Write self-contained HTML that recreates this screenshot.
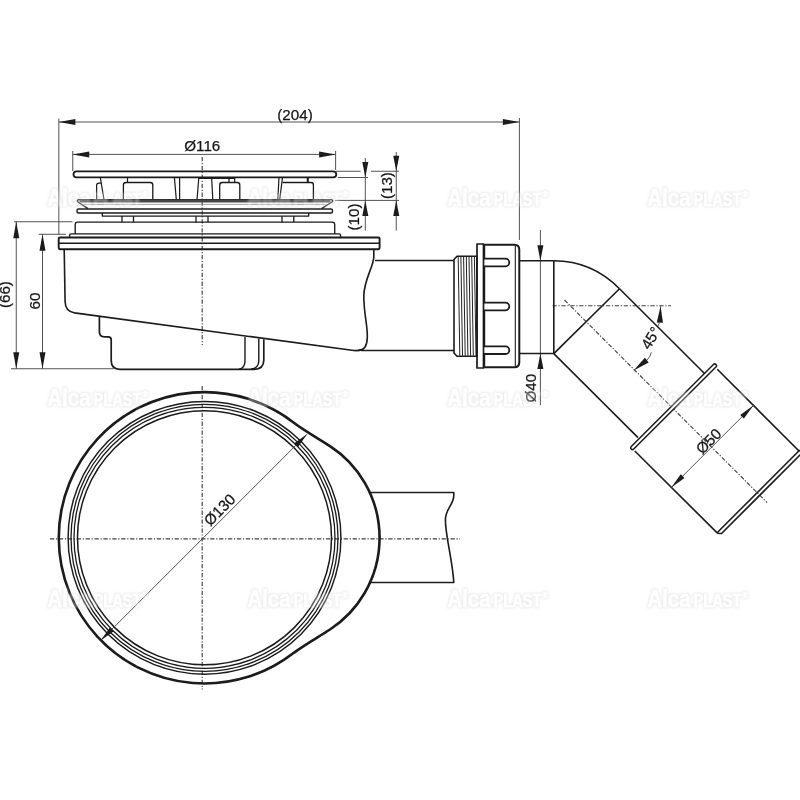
<!DOCTYPE html>
<html lang="cs">
<head>
<meta charset="utf-8">
<title>Alcaplast – sifon vaničkový</title>
<style>
html,body{margin:0;padding:0;background:#fff;}
body{width:800px;height:800px;overflow:hidden;}
svg{display:block;}
text{font-family:"Liberation Sans",sans-serif;fill:#161616;stroke:#161616;stroke-width:.25;}
.wm text{fill:#fff;stroke:#fff;stroke-width:.5;}
</style>
</head>
<body>
<svg width="800" height="800" viewBox="0 0 800 800">
<defs>
<filter id="soft" x="0" y="0" width="800" height="800" filterUnits="userSpaceOnUse"><feGaussianBlur stdDeviation="0.4"/></filter>
<filter id="wm" x="0" y="0" width="800" height="800" filterUnits="userSpaceOnUse" color-interpolation-filters="sRGB">
<feMorphology in="SourceAlpha" operator="dilate" radius="1.3" result="d"/>
<feGaussianBlur in="d" stdDeviation="1.1" result="b"/>
<feGaussianBlur in="SourceAlpha" stdDeviation="0.4" result="s"/>
<feComposite in="b" in2="s" operator="out" result="ring"/>
<feFlood flood-color="#cfcfcf" flood-opacity="0.4" result="g"/>
<feComposite in="g" in2="ring" operator="in" result="halo"/>
<feFlood flood-color="#ffffff" flood-opacity="0.3" result="w"/>
<feComposite in="w" in2="s" operator="in" result="fill"/>
<feMerge><feMergeNode in="halo"/><feMergeNode in="fill"/></feMerge>
</filter>
</defs>
<rect width="800" height="800" fill="#fff"/>
<g stroke-linecap="butt" stroke-linejoin="round" filter="url(#soft)">
<line x1="58.85" y1="118.5" x2="58.85" y2="234.5" stroke="#4a4a4a" stroke-width="0.95" />
<line x1="519.4" y1="118" x2="519.4" y2="240" stroke="#4a4a4a" stroke-width="0.95" />
<line x1="58.85" y1="122" x2="519.4" y2="122" stroke="#4a4a4a" stroke-width="0.95" />
<polygon points="58.85,122.00 75.35,125.00 75.35,119.00" fill="#1a1a1a"/>
<polygon points="519.40,122.00 502.90,119.00 502.90,125.00" fill="#1a1a1a"/>
<text x="295" y="120" font-size="15.2" text-anchor="middle">(204)</text>
<line x1="72.75" y1="151" x2="72.75" y2="171" stroke="#4a4a4a" stroke-width="0.95" />
<line x1="335.6" y1="151" x2="335.6" y2="170" stroke="#4a4a4a" stroke-width="0.95" />
<line x1="72.75" y1="154.4" x2="335.6" y2="154.4" stroke="#4a4a4a" stroke-width="0.95" />
<polygon points="72.75,154.40 89.25,157.40 89.25,151.40" fill="#1a1a1a"/>
<polygon points="335.60,154.40 319.10,151.40 319.10,157.40" fill="#1a1a1a"/>
<text x="202.3" y="151.3" font-size="15.2" text-anchor="middle">Ø116</text>
<line x1="365.3" y1="158" x2="365.3" y2="230.6" stroke="#4a4a4a" stroke-width="0.95" />
<line x1="338" y1="177.5" x2="368" y2="177.5" stroke="#4a4a4a" stroke-width="0.95" />
<line x1="335" y1="200.4" x2="399" y2="200.4" stroke="#4a4a4a" stroke-width="0.95" />
<polygon points="365.30,177.50 368.30,162.00 362.30,162.00" fill="#1a1a1a"/>
<polygon points="365.30,200.40 362.30,215.90 368.30,215.90" fill="#1a1a1a"/>
<text x="359" y="217" font-size="15.2" text-anchor="middle" transform="rotate(-90 359 217)">(10)</text>
<line x1="396.25" y1="152" x2="396.25" y2="230.6" stroke="#4a4a4a" stroke-width="0.95" />
<line x1="336" y1="171.25" x2="360.6" y2="171.25" stroke="#4a4a4a" stroke-width="0.95" />
<line x1="371" y1="171.25" x2="399" y2="171.25" stroke="#4a4a4a" stroke-width="0.95" />
<polygon points="396.25,171.25 399.25,155.75 393.25,155.75" fill="#1a1a1a"/>
<polygon points="396.25,200.40 393.25,215.90 399.25,215.90" fill="#1a1a1a"/>
<text x="392" y="185.6" font-size="15.2" text-anchor="middle" transform="rotate(-90 392 185.6)">(13)</text>
<line x1="14" y1="221.75" x2="72.5" y2="221.75" stroke="#4a4a4a" stroke-width="0.95" />
<line x1="16.25" y1="221.75" x2="16.25" y2="368.75" stroke="#4a4a4a" stroke-width="0.95" />
<polygon points="16.25,221.75 13.25,238.25 19.25,238.25" fill="#1a1a1a"/>
<polygon points="16.25,368.75 19.25,352.25 13.25,352.25" fill="#1a1a1a"/>
<text x="9.6" y="294.6" font-size="15.2" text-anchor="middle" transform="rotate(-90 9.6 294.6)">(66)</text>
<line x1="38.75" y1="234.25" x2="66" y2="234.25" stroke="#4a4a4a" stroke-width="0.95" />
<line x1="42.5" y1="234.25" x2="42.5" y2="368.75" stroke="#4a4a4a" stroke-width="0.95" />
<polygon points="42.50,234.25 39.50,250.75 45.50,250.75" fill="#1a1a1a"/>
<polygon points="42.50,368.75 45.50,352.25 39.50,352.25" fill="#1a1a1a"/>
<text x="40" y="301" font-size="15.2" text-anchor="middle" transform="rotate(-90 40 301)">60</text>
<line x1="11" y1="368.75" x2="113.75" y2="368.75" stroke="#4a4a4a" stroke-width="0.95" />
<line x1="540.4" y1="230" x2="540.4" y2="405" stroke="#4a4a4a" stroke-width="0.95" />
<polygon points="540.40,260.80 543.40,245.30 537.40,245.30" fill="#1a1a1a"/>
<polygon points="540.40,353.50 537.40,369.00 543.40,369.00" fill="#1a1a1a"/>
<text x="536" y="388.2" font-size="15.2" text-anchor="middle" transform="rotate(-90 536 388.2)">Ø40</text>
<line x1="202.2" y1="157" x2="202.2" y2="345" stroke="#404040" stroke-width="1.15" stroke-dasharray="4.3 1.7 1.2 1.7"/>
<line x1="202.2" y1="386" x2="202.2" y2="689.5" stroke="#404040" stroke-width="1.15" stroke-dasharray="4.3 1.7 1.2 1.7"/>
<line x1="50" y1="538.8" x2="460" y2="538.8" stroke="#404040" stroke-width="1.15" stroke-dasharray="4.3 1.7 1.2 1.7"/>
<line x1="552.5" y1="305.75" x2="671" y2="305.75" stroke="#404040" stroke-width="1.15" stroke-dasharray="4.3 1.7 1.2 1.7"/>
<line x1="564.5" y1="300" x2="767" y2="502.5" stroke="#404040" stroke-width="1.15" stroke-dasharray="4.3 1.7 1.2 1.7"/>
<path d="M76.5,171.3 H333 Q336.3,171.3 336.3,174.3 Q336.3,177.4 333,177.4 H76.5 Q73.5,177.4 73.5,174.3 Q73.5,171.3 76.5,171.3 Z" stroke="#1a1a1a" stroke-width="1.8" fill="none" />
<path d="M100.3,177.4 L104,199.6" stroke="#1a1a1a" stroke-width="1.2" fill="none" />
<path d="M96.6,199.6 V185.5 Q96.6,183.2 99,183.2 H101.3" stroke="#1a1a1a" stroke-width="1.2" fill="none" />
<path d="M127.5,177.4 V182.5" stroke="#1a1a1a" stroke-width="1.2" fill="none" />
<path d="M123.4,199.6 V185 Q123.4,182.5 126,182.5 H150.3 Q152.8,182.5 152.8,185 V199.6" stroke="#1a1a1a" stroke-width="1.3" fill="none" />
<path d="M174.4,177.4 L176.3,199.6" stroke="#1a1a1a" stroke-width="1.2" fill="none" />
<path d="M179.6,177.4 V199.6" stroke="#1a1a1a" stroke-width="1.2" fill="none" />
<path d="M198.8,177.8 L197,199.6" stroke="#1a1a1a" stroke-width="1.2" fill="none" />
<path d="M198.8,178 H234.7" stroke="#1a1a1a" stroke-width="2.0" fill="none" />
<path d="M211.6,177.4 L212.8,199.6" stroke="#1a1a1a" stroke-width="1.2" fill="none" />
<path d="M229,177.4 V182.5 M234.7,177.4 V182.5" stroke="#1a1a1a" stroke-width="1.2" fill="none" />
<path d="M219.7,199.6 V185 Q219.7,182.5 222.2,182.5 H237.2 Q239.8,182.5 239.8,185 V199.6" stroke="#1a1a1a" stroke-width="1.3" fill="none" />
<path d="M279,177.4 L277.8,199.6 M282.5,177.4 L279.7,199.6" stroke="#1a1a1a" stroke-width="1.2" fill="none" />
<path d="M282.5,182.5 H311 Q313.4,182.5 313.4,185 V199.6" stroke="#1a1a1a" stroke-width="1.3" fill="none" />
<path d="M307.8,177.4 V182.5" stroke="#1a1a1a" stroke-width="2.0" fill="none" />
<path d="M78.5,199.6 H331.5 Q333.5,200.6 332,202 L321.5,208.6 M78.5,199.6 Q76.5,200.6 78,202 L88,208.6" stroke="#1a1a1a" stroke-width="1.4" fill="none" />
<line x1="79.5" y1="200.9" x2="330.5" y2="200.9" stroke="#444" stroke-width="3.0" />
<line x1="83" y1="204.4" x2="327" y2="204.4" stroke="#888" stroke-width="0.8" />
<path d="M78.5,209 H331 Q332.5,209 332.5,211 Q332.5,213 331,213 H78.5 Q77,213 77,211 Q77,209 78.5,209 Z" stroke="#1a1a1a" stroke-width="1.4" fill="none" />
<path d="M102.3,213 V216.1 H308.7 V213" stroke="#1a1a1a" stroke-width="1.3" fill="none" />
<path d="M122,216.1 V222.2 M133.5,216.3 V222.2 M196,216.3 V222.2 M208,216.3 V222.2 M282,216.3 V222.2 M293.8,216.3 V222" stroke="#1a1a1a" stroke-width="1.3" fill="none" />
<path d="M75.2,234 V224.5 Q75.2,222.1 77.6,222.1 H332.3 Q334.7,222.1 334.7,224.5 V234" stroke="#1a1a1a" stroke-width="1.35" fill="none" />
<path d="M69.6,237.3 V235.6 Q69.6,233.9 71.3,233.9 H339 Q340.6,233.9 340.6,235.6 V237.3" stroke="#1a1a1a" stroke-width="1.4" fill="none" />
<path d="M60,237.5 H378 Q379.6,237.5 379.6,239 V247.6 Q379.6,249.2 378,249.2 H60.3 Q58.7,249.2 58.7,247.6 V239 Q58.7,237.5 60.3,237.5 Z" stroke="#1a1a1a" stroke-width="1.9" fill="none" />
<path d="M58.5,243.3 H379.5" stroke="#1a1a1a" stroke-width="1.4" fill="none" />
<path d="M64.2,249.5 L65.1,301.5 Q65.2,311.2 74.5,312.9 L352,350.3 Q358,351.2 361.5,349.5" stroke="#1a1a1a" stroke-width="1.6" fill="none" />
<path d="M373.8,249.5 V257 C373.8,266 363.8,280 363.8,296 C363.8,315 367.8,325 367.3,338 C367,346 364,350.5 358,350.5" stroke="#1a1a1a" stroke-width="1.6" fill="none" />
<path d="M375,260.5 H454 M361,350.5 H454" stroke="#1a1a1a" stroke-width="1.6" fill="none" />
<path d="M99.4,316.6 V331.8 Q99.4,336.9 104.5,336.9 H108.3 Q111.2,336.9 111.2,339.8 V360.5 Q111.2,369.3 120,369.3 H254 Q263.8,369.3 263.8,360 V339.2" stroke="#1a1a1a" stroke-width="1.7" fill="none" />
<path d="M245,337 V361 Q245,368 239,369.3 M258.8,338.5 V361 Q258.8,368 251,369.3" stroke="#1a1a1a" stroke-width="1.4" fill="none" />
<path d="M457,256.2 H477 V356.3 H457 L454,353 V259.5 Z" stroke="#1a1a1a" stroke-width="1.6" fill="none" />
<line x1="458.2" y1="256.8" x2="459.8" y2="355.8" stroke="#222" stroke-width="1.0" />
<line x1="460.9" y1="256.8" x2="462.5" y2="355.8" stroke="#222" stroke-width="1.0" />
<line x1="463.59999999999997" y1="256.8" x2="465.2" y2="355.8" stroke="#222" stroke-width="1.0" />
<line x1="466.3" y1="256.8" x2="467.90000000000003" y2="355.8" stroke="#222" stroke-width="1.0" />
<line x1="469.0" y1="256.8" x2="470.6" y2="355.8" stroke="#222" stroke-width="1.0" />
<line x1="471.7" y1="256.8" x2="473.3" y2="355.8" stroke="#222" stroke-width="1.0" />
<line x1="474.4" y1="256.8" x2="476.0" y2="355.8" stroke="#222" stroke-width="1.0" />
<path d="M477,244 H483.5 V368 H477 Z" stroke="#1a1a1a" stroke-width="1.7" fill="none" />
<path d="M483.5,244.8 H514.3 Q519.3,244.8 519.3,249.8 V362.2 Q519.3,367.2 514.3,367.2 H483.5" stroke="#1a1a1a" stroke-width="2.0" fill="none" />
<path d="M515.3,246 V366" stroke="#1a1a1a" stroke-width="1.1" fill="none" />
<path d="M484.3,245.5 V258.7 H505.5 A3.8,3.8 0 0 1 505.5,266.3 H484.3 V302.7 H505.5 A3.8,3.8 0 0 1 505.5,310.3 H484.3 V346.4 H505.5 A3.8,3.8 0 0 1 505.5,354.0 H484.3 V366.5" stroke="#1a1a1a" stroke-width="1.8" fill="none" />
<path d="M519,260.8 H553.8 M519,353.5 H553.8" stroke="#1a1a1a" stroke-width="1.6" fill="none" />
<path d="M553.8,260.8 V353.6" stroke="#1a1a1a" stroke-width="1.6" fill="none" />
<path d="M553.8,260.8 C580,260.8 602,271 619.5,288.8" stroke="#1a1a1a" stroke-width="1.6" fill="none" />
<path d="M619.5,288.8 L553.8,353.6" stroke="#1a1a1a" stroke-width="1.6" fill="none" />
<path d="M619.5,288.8 L704.5,373.5" stroke="#1a1a1a" stroke-width="1.6" fill="none" />
<path d="M553.8,353.6 L638,437.6" stroke="#1a1a1a" stroke-width="1.6" fill="none" />
<line x1="714.7" y1="365.75" x2="632.5" y2="447.75" stroke="#1b1b1b" stroke-width="5.0" stroke-linecap="round"/>
<line x1="714.7" y1="365.75" x2="632.5" y2="447.75" stroke="#fff" stroke-width="2.0" stroke-linecap="round"/>
<path d="M717.3,369.3 L799.5,451.5" stroke="#1a1a1a" stroke-width="1.6" fill="none" />
<path d="M634.8,451 L716.9,532.6 Q717.8,533.5 719.5,533.5 L721.5,533.5 L801,454" stroke="#1a1a1a" stroke-width="1.6" fill="none" />
<path d="M717.6,532.2 L799.8,450" stroke="#1a1a1a" stroke-width="1.6" fill="none" />
<path d="M660.60,305.90 A90.4,90.4 0 0 1 659.09,322.37" stroke="#4a4a4a" stroke-width="0.8" fill="none" />
<polygon points="660.60,306.20 656.75,322.54 662.95,322.82" fill="#1a1a1a"/>
<path d="M659.6,322.5 L657.9,326" stroke="#4a4a4a" stroke-width="0.9" fill="none" />
<polygon points="633.60,370.60 648.69,362.59 644.84,357.74" fill="#1a1a1a"/>
<path d="M647,360 Q650.5,357 651.3,352.3" stroke="#4a4a4a" stroke-width="0.9" fill="none" />
<text x="653.7" y="340.5" font-size="15.2" text-anchor="middle" transform="rotate(-58 653.7 340.5) translate(0.5,1.5)">45°</text>
<line x1="671.3" y1="487.5" x2="753.4" y2="405.4" stroke="#4a4a4a" stroke-width="0.95" />
<polygon points="671.30,487.50 684.45,478.02 680.78,474.35" fill="#1a1a1a"/>
<polygon points="753.40,405.40 740.25,414.88 743.92,418.55" fill="#1a1a1a"/>
<text x="712.4" y="444.9" font-size="15.2" text-anchor="middle" transform="rotate(-45 712.4 444.9)">Ø50</text>
<path d="M294.2,652.6 A145.7,145.7 0 1 1 294.2,423 C303.7,430.4 320,439.5 330,446.1 A109.6,109.6 0 0 1 330,629.5 C320,636.1 303.7,645.2 294.2,652.6 Z" stroke="#1a1a1a" stroke-width="2.6" fill="none" />
<circle cx="204.5" cy="537.8" r="136.4" fill="none" stroke="#1a1a1a" stroke-width="1.45"/>
<circle cx="204.5" cy="537.8" r="133.5" fill="none" stroke="#1a1a1a" stroke-width="1.3"/>
<circle cx="204.5" cy="537.8" r="130.5" fill="none" stroke="#1a1a1a" stroke-width="1.3"/>
<circle cx="204.5" cy="537.8" r="127" fill="none" stroke="#1a1a1a" stroke-width="1.5"/>
<path d="M369.8,492.5 H453.8 V495.5 C453.6,505 445.4,509 445.4,520 C445.4,536 452.5,560 453.8,582.5 H369.8" stroke="#1a1a1a" stroke-width="1.6" fill="none" />
<line x1="101" y1="640.2" x2="306.8" y2="434.4" stroke="#4a4a4a" stroke-width="0.95" />
<polygon points="100.60,640.60 113.82,631.20 110.00,627.38" fill="#1a1a1a"/>
<polygon points="307.20,434.00 293.98,443.40 297.80,447.22" fill="#1a1a1a"/>
<text x="223.3" y="513.5" font-size="15.2" text-anchor="middle" transform="rotate(-45 223.3 513.5)">Ø130</text>
</g>
<g class="wm" filter="url(#wm)">
<text x="47.5" y="206"><tspan font-size="23.5" font-weight="bold" textLength="43" lengthAdjust="spacingAndGlyphs">Alca</tspan><tspan dx="3" font-size="17.5" font-weight="bold" textLength="48" lengthAdjust="spacingAndGlyphs">PLAST</tspan><tspan dy="-9" dx="1" font-size="7">®</tspan></text>
<text x="247.5" y="206"><tspan font-size="23.5" font-weight="bold" textLength="43" lengthAdjust="spacingAndGlyphs">Alca</tspan><tspan dx="3" font-size="17.5" font-weight="bold" textLength="48" lengthAdjust="spacingAndGlyphs">PLAST</tspan><tspan dy="-9" dx="1" font-size="7">®</tspan></text>
<text x="447.5" y="206"><tspan font-size="23.5" font-weight="bold" textLength="43" lengthAdjust="spacingAndGlyphs">Alca</tspan><tspan dx="3" font-size="17.5" font-weight="bold" textLength="48" lengthAdjust="spacingAndGlyphs">PLAST</tspan><tspan dy="-9" dx="1" font-size="7">®</tspan></text>
<text x="647.5" y="206"><tspan font-size="23.5" font-weight="bold" textLength="43" lengthAdjust="spacingAndGlyphs">Alca</tspan><tspan dx="3" font-size="17.5" font-weight="bold" textLength="48" lengthAdjust="spacingAndGlyphs">PLAST</tspan><tspan dy="-9" dx="1" font-size="7">®</tspan></text>
<text x="47.5" y="406"><tspan font-size="23.5" font-weight="bold" textLength="43" lengthAdjust="spacingAndGlyphs">Alca</tspan><tspan dx="3" font-size="17.5" font-weight="bold" textLength="48" lengthAdjust="spacingAndGlyphs">PLAST</tspan><tspan dy="-9" dx="1" font-size="7">®</tspan></text>
<text x="247.5" y="406"><tspan font-size="23.5" font-weight="bold" textLength="43" lengthAdjust="spacingAndGlyphs">Alca</tspan><tspan dx="3" font-size="17.5" font-weight="bold" textLength="48" lengthAdjust="spacingAndGlyphs">PLAST</tspan><tspan dy="-9" dx="1" font-size="7">®</tspan></text>
<text x="447.5" y="406"><tspan font-size="23.5" font-weight="bold" textLength="43" lengthAdjust="spacingAndGlyphs">Alca</tspan><tspan dx="3" font-size="17.5" font-weight="bold" textLength="48" lengthAdjust="spacingAndGlyphs">PLAST</tspan><tspan dy="-9" dx="1" font-size="7">®</tspan></text>
<text x="647.5" y="406"><tspan font-size="23.5" font-weight="bold" textLength="43" lengthAdjust="spacingAndGlyphs">Alca</tspan><tspan dx="3" font-size="17.5" font-weight="bold" textLength="48" lengthAdjust="spacingAndGlyphs">PLAST</tspan><tspan dy="-9" dx="1" font-size="7">®</tspan></text>
<text x="47.5" y="607"><tspan font-size="23.5" font-weight="bold" textLength="43" lengthAdjust="spacingAndGlyphs">Alca</tspan><tspan dx="3" font-size="17.5" font-weight="bold" textLength="48" lengthAdjust="spacingAndGlyphs">PLAST</tspan><tspan dy="-9" dx="1" font-size="7">®</tspan></text>
<text x="247.5" y="607"><tspan font-size="23.5" font-weight="bold" textLength="43" lengthAdjust="spacingAndGlyphs">Alca</tspan><tspan dx="3" font-size="17.5" font-weight="bold" textLength="48" lengthAdjust="spacingAndGlyphs">PLAST</tspan><tspan dy="-9" dx="1" font-size="7">®</tspan></text>
<text x="447.5" y="607"><tspan font-size="23.5" font-weight="bold" textLength="43" lengthAdjust="spacingAndGlyphs">Alca</tspan><tspan dx="3" font-size="17.5" font-weight="bold" textLength="48" lengthAdjust="spacingAndGlyphs">PLAST</tspan><tspan dy="-9" dx="1" font-size="7">®</tspan></text>
<text x="647.5" y="607"><tspan font-size="23.5" font-weight="bold" textLength="43" lengthAdjust="spacingAndGlyphs">Alca</tspan><tspan dx="3" font-size="17.5" font-weight="bold" textLength="48" lengthAdjust="spacingAndGlyphs">PLAST</tspan><tspan dy="-9" dx="1" font-size="7">®</tspan></text>
</g>
</svg>
</body>
</html>
